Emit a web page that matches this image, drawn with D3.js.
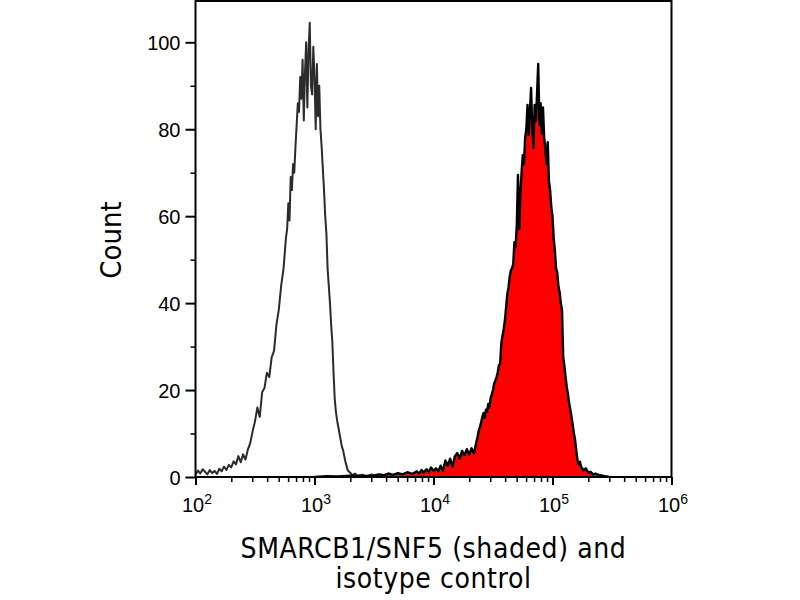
<!DOCTYPE html>
<html>
<head>
<meta charset="utf-8">
<script src="https://cdn.jsdelivr.net/npm/d3@7/dist/d3.min.js"></script>
<style>
	html, body { margin: 0; padding: 0; background: #fff; }
	svg { display: block; }
</style>
</head>
<body>
<div id="chart"></div>
<script>
// Isotype control histogram (log10 of fluorescence, count)
const isoLog = [
	2.00, 2.02, 2.04, 2.06, 2.08, 2.10, 2.12, 2.14, 2.16, 2.18, 2.20, 2.22, 2.24, 2.26, 2.28, 2.30,
	2.32, 2.34, 2.36, 2.38, 2.40, 2.42, 2.44, 2.46, 2.48, 2.50, 2.52, 2.54, 2.56, 2.58, 2.60, 2.62,
	2.64, 2.66, 2.68, 2.70, 2.72, 2.74, 2.76, 2.77, 2.78, 2.79, 2.80, 2.81, 2.82, 2.83, 2.84, 2.85,
	2.86, 2.87, 2.88, 2.89, 2.90, 2.91, 2.92, 2.93, 2.94, 2.95, 2.96, 2.97, 2.98, 2.99, 3.00, 3.01,
	3.02, 3.03, 3.04, 3.05, 3.06, 3.07, 3.08, 3.09, 3.10, 3.11, 3.12, 3.13, 3.14, 3.15, 3.16, 3.17,
	3.18, 3.19, 3.20, 3.21, 3.22, 3.23, 3.24, 3.25, 3.26, 3.27, 3.28, 3.30, 3.32, 3.34, 3.36, 3.40,
	3.44, 3.48, 3.52, 3.56, 3.60, 3.64, 3.68, 3.72, 3.76, 3.80, 3.84, 3.88, 3.92, 3.96, 4.00
];
const isoCount = [
	0.5, 1.5, 0.8, 1.8, 1.2, 0.6, 1.6, 0.9, 1.4, 0.7, 1.9, 1.3, 2.4, 1.6, 2.8, 2.2,
	3.6, 2.9, 4.8, 3.4, 5.2, 4.0, 6.3, 7.8, 10.5, 12.8, 16.0, 13.8, 19.5, 20.5, 24.0, 23.0,
	27.5, 29.0, 35.0, 38.5, 44.0, 48.0, 55.0, 57.0, 63.0, 59.0, 69.0, 66.0, 72.0, 70.0, 76.0, 81.0,
	86.0, 84.0, 92.0, 87.0, 96.0, 82.0, 93.0, 100.0, 85.0, 98.0, 104.5, 90.0, 88.0, 99.0, 92.0, 80.0,
	95.0, 83.0, 90.0, 80.0, 76.0, 71.0, 66.0, 60.0, 56.0, 48.0, 44.0, 40.0, 35.0, 31.0, 24.0, 18.0,
	15.0, 13.0, 11.5, 10.0, 8.5, 7.0, 6.2, 4.8, 3.5, 2.5, 1.5, 1.0, 0.4, 0.8, 0.3, 0.5,
	0.2, 0.6, 0.3, 0.5, 0.2, 0.4, 0.1, 0.3, 0.2, 0.4, 0.1, 0.3, 0.1, 0.2, 0.0
];

// SMARCB1/SNF5 stained histogram (log10 of fluorescence, count)
const stainLog = [
	3.00, 3.10, 3.20, 3.30, 3.40, 3.50, 3.54, 3.58, 3.62, 3.66, 3.70, 3.74, 3.78, 3.82, 3.86, 3.88,
	3.90, 3.92, 3.94, 3.96, 3.98, 4.00, 4.02, 4.04, 4.06, 4.08, 4.10, 4.12, 4.14, 4.16, 4.18, 4.20,
	4.22, 4.24, 4.26, 4.28, 4.30, 4.32, 4.34, 4.36, 4.37, 4.38, 4.39, 4.40, 4.41, 4.42, 4.43, 4.44,
	4.45, 4.46, 4.47, 4.48, 4.49, 4.50, 4.51, 4.52, 4.53, 4.54, 4.55, 4.56, 4.57, 4.58, 4.59, 4.60,
	4.61, 4.62, 4.63, 4.64, 4.65, 4.66, 4.67, 4.68, 4.69, 4.70, 4.71, 4.72, 4.73, 4.74, 4.75, 4.76,
	4.77, 4.78, 4.79, 4.80, 4.81, 4.82, 4.83, 4.84, 4.85, 4.86, 4.87, 4.88, 4.89, 4.90, 4.91, 4.92,
	4.93, 4.94, 4.95, 4.96, 4.97, 4.98, 4.99, 5.00, 5.01, 5.02, 5.03, 5.04, 5.05, 5.06, 5.07, 5.08,
	5.09, 5.10, 5.11, 5.12, 5.13, 5.14, 5.15, 5.16, 5.17, 5.18, 5.19, 5.20, 5.21, 5.22, 5.23, 5.24,
	5.26, 5.28, 5.30, 5.32, 5.34, 5.36, 5.40, 5.44, 5.48
];
const stainCount = [
	0.0, 0.2, 0.1, 0.3, 0.2, 0.3, 0.6, 0.4, 0.8, 0.5, 0.9, 0.6, 1.1, 0.7, 1.3, 0.8,
	1.6, 1.0, 1.8, 1.2, 2.2, 1.4, 2.0, 1.3, 2.6, 1.5, 3.8, 2.6, 4.2, 2.4, 4.8, 5.5,
	4.2, 6.0, 5.0, 6.4, 5.2, 6.6, 5.4, 8.0, 9.2, 10.6, 11.5, 12.5, 13.8, 14.7, 13.6, 15.5,
	15.0, 16.8, 16.0, 18.2, 19.0, 20.0, 21.5, 22.2, 23.0, 24.0, 25.8, 26.0, 30.8, 32.5, 34.0, 36.0,
	39.0, 42.0, 43.5, 46.0, 47.5, 48.0, 49.0, 54.0, 53.0, 58.0, 69.5, 57.0, 65.0, 70.0, 74.0, 72.0,
	78.0, 80.0, 85.6, 78.7, 84.0, 89.5, 80.0, 75.7, 85.6, 82.0, 88.0, 95.0, 81.0, 86.0, 79.0, 85.0,
	78.0, 75.7, 72.0, 77.0, 68.0, 66.0, 62.0, 60.0, 55.0, 52.0, 48.0, 47.0, 43.8, 42.5, 40.0, 38.4,
	27.6, 25.5, 23.0, 20.7, 19.0, 17.0, 15.5, 13.8, 12.0, 10.0, 8.5, 6.0, 3.8, 3.0, 3.5, 2.4,
	1.5, 2.0, 1.0, 1.2, 0.6, 0.8, 0.4, 0.2, 0.0
];

const xMajor = [2, 3, 4, 5, 6];
const yMajor = [0, 20, 40, 60, 80, 100];
const yMinor = [10, 30, 50, 70, 90];
const xTitle = ["SMARCB1/SNF5 (shaded) and", "isotype control"];
const yTitle = "Count";

const width = 800, height = 600;
const mLeft = 195.5, mRight = 671.5, mTop = 1, mBottom = 477;

const xScale = d3.scaleLog().domain([1e2, 1e6]).range([mLeft, mRight]);
const yScale = d3.scaleLinear().domain([0, 109.5]).range([mBottom, mTop]);

const svg = d3.select("#chart")
	.append("svg")
	.attr("width", width)
	.attr("height", height);

svg.append("defs").append("clipPath")
	.attr("id", "plot")
	.append("rect")
	.attr("x", mLeft).attr("y", mTop)
	.attr("width", mRight - mLeft).attr("height", mBottom - mTop);

const iso = isoLog.map((l, i) => [Math.pow(10, l), isoCount[i]]);
const stain = stainLog.map((l, i) => [Math.pow(10, l), stainCount[i]]);

const line = d3.line()
	.x((d) => xScale(d[0]))
	.y((d) => yScale(d[1]));
const area = d3.area()
	.x((d) => xScale(d[0]))
	.y0(yScale(0))
	.y1((d) => yScale(d[1]));

const plot = svg.append("g").attr("clip-path", "url(#plot)");

plot.append("path")
	.datum(iso)
	.attr("d", line)
	.attr("fill", "none")
	.attr("stroke", "#2b2b2b")
	.attr("stroke-width", 2)
	.attr("stroke-linejoin", "round");

plot.append("path")
	.datum(stain)
	.attr("d", area)
	.attr("fill", "#ff0000");

plot.append("path")
	.datum(stain)
	.attr("d", line)
	.attr("fill", "none")
	.attr("stroke", "#000")
	.attr("stroke-width", 2.4)
	.attr("stroke-linejoin", "round");

// frame
svg.append("rect")
	.attr("x", mLeft).attr("y", mTop)
	.attr("width", mRight - mLeft).attr("height", mBottom - mTop)
	.attr("fill", "none")
	.attr("stroke", "#000")
	.attr("stroke-width", 2);

// x axis: major + minor ticks
const xMinor = [];
xMajor.slice(0, -1).forEach((p) => {
	for (let k = 2; k <= 9; k++) xMinor.push(k * Math.pow(10, p));
});

svg.append("g")
	.attr("transform", `translate(0,${mBottom})`)
	.call(d3.axisBottom(xScale).tickValues(xMinor).tickSize(5).tickFormat(""))
	.call((g) => g.select(".domain").remove())
	.selectAll("line").attr("stroke-width", 1.5);

const xAx = svg.append("g")
	.attr("transform", `translate(0,${mBottom})`)
	.call(d3.axisBottom(xScale).tickValues(xMajor.map((p) => Math.pow(10, p))).tickSize(8).tickFormat(""));
xAx.select(".domain").remove();
xAx.selectAll("line").attr("stroke-width", 2);

const xLab = svg.append("g")
	.selectAll("text")
	.data(xMajor)
	.enter()
	.append("text")
	.attr("x", (d) => xScale(Math.pow(10, d)) + 1.5)
	.attr("y", 512)
	.attr("text-anchor", "middle")
	.style("font-family", "'Liberation Sans', Arial, sans-serif")
	.style("font-size", "20px")
	.attr("fill", "#000");
xLab.append("tspan").text("10");
xLab.append("tspan")
	.attr("dy", -8)
	.style("font-size", "14px")
	.text((d) => d);

// y axis
svg.append("g")
	.attr("transform", `translate(${mLeft},0)`)
	.call(d3.axisLeft(yScale).tickValues(yMinor).tickSize(5).tickFormat(""))
	.call((g) => g.select(".domain").remove())
	.selectAll("line").attr("stroke-width", 1.5);

const yAx = svg.append("g")
	.attr("transform", `translate(${mLeft},0)`)
	.call(d3.axisLeft(yScale).tickValues(yMajor).tickSize(10).tickPadding(5));
yAx.select(".domain").remove();
yAx.selectAll("line").attr("stroke-width", 2);
yAx.selectAll("text")
	.style("font-family", "'Liberation Sans', Arial, sans-serif")
	.style("font-size", "20px")
	.attr("fill", "#000")
	.attr("dy", "0.36em");

// titles
svg.append("g")
	.selectAll("text")
	.data(xTitle)
	.enter()
	.append("text")
	.attr("x", (mLeft + mRight) / 2)
	.attr("y", (d, i) => 558 + i * 30)
	.attr("text-anchor", "middle")
	.style("font-family", "'DejaVu Sans', sans-serif")
	.style("font-stretch", "condensed")
	.style("font-size", "28px")
	.style("letter-spacing", "0.6px")
	.attr("fill", "#000")
	.text((d) => d);

svg.append("text")
	.attr("transform", "translate(121,240) rotate(-90)")
	.attr("text-anchor", "middle")
	.style("font-family", "'DejaVu Sans', sans-serif")
	.style("font-stretch", "condensed")
	.style("font-size", "29px")
	.attr("fill", "#000")
	.text(yTitle);
</script>
</body>
</html>
